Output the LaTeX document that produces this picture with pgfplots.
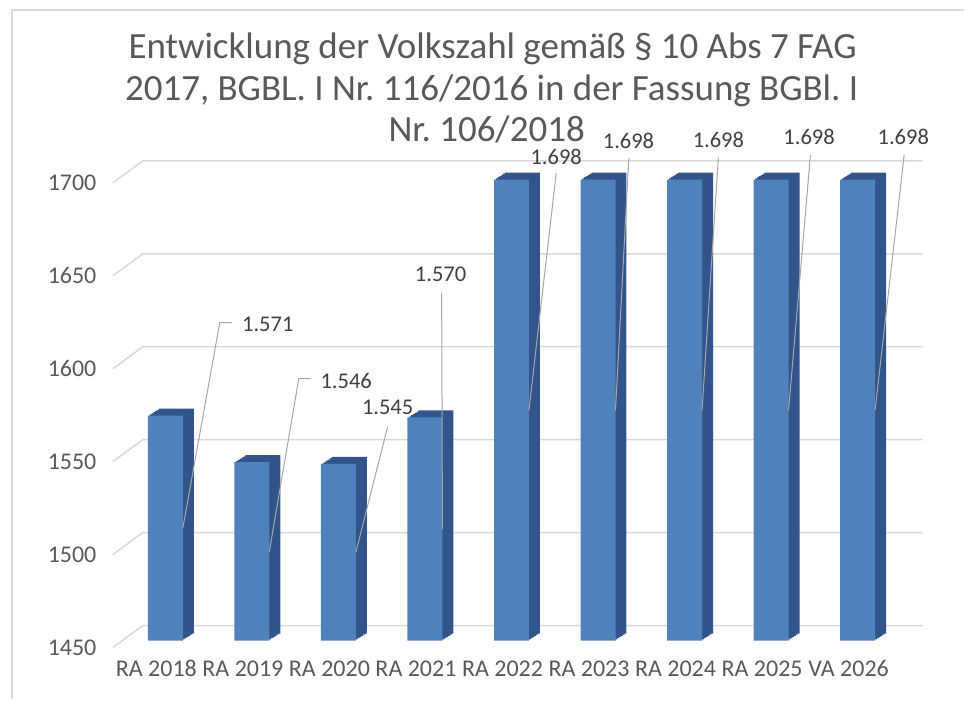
\documentclass[border=0pt]{standalone}
\usepackage{pgfplots}
\usepackage{pgfplotstable}
\pgfplotsset{compat=1.18}
\usepackage{fontspec}
\setmainfont{Carlito}
\frenchspacing
\definecolor{barfront}{HTML}{4F81BD}
\definecolor{barside}{HTML}{31558A}
\definecolor{gridc}{HTML}{D9D9D9}
\definecolor{txtgray}{HTML}{595959}
\definecolor{lblgray}{HTML}{404040}
\definecolor{leadc}{HTML}{A6A6A6}
\pgfplotstableread{
i v
0 1571
1 1546
2 1545
3 1570
4 1698
5 1698
6 1698
7 1698
8 1698
}\data
\begin{document}
\begin{tikzpicture}
\path (0pt,0pt) rectangle (965pt,700pt);
\draw[gridc, line width=1.5pt] (12pt,0pt) -- (12pt,690.75pt);
\draw[gridc, line width=1.5pt] (11.25pt,690pt) -- (965pt,690pt);
\node[anchor=base, text=txtgray, font=\fontsize{37}{41}\selectfont] at (493pt,641pt) {Entwicklung der Volkszahl gemäß § 10 Abs 7 FAG};
\node[anchor=base, text=txtgray, font=\fontsize{37}{41}\selectfont] at (492pt,599pt) {2017, BGBL. I Nr. 116/2016 in der Fassung BGBl. I};
\node[anchor=base, text=txtgray, font=\fontsize{37}{41}\selectfont] at (487pt,558pt) {Nr. 106/2018};
\begin{axis}[
  at={(113pt,59pt)}, anchor=south west,
  x=86.6pt, y=1.86pt,
  xmin=-0.606, xmax=8.75, ymin=0, ymax=250,
  clip=false,
  axis line style={draw=none},
  tick style={draw=none},
  major tick length=0pt,
  /pgf/number format/assume math mode=true,
  xtick={0,1,2,3,4,5,6,7,8},
  xticklabels={RA 2018,RA 2019,RA 2020,RA 2021,RA 2022,RA 2023,RA 2024,RA 2025,VA 2026},
  ytick={0,50,100,150,200,250},
  yticklabels={1450,1500,1550,1600,1650,1700},
  ticklabel style={font=\fontsize{24}{28}\selectfont, text=txtgray},
  xticklabel style={anchor=base, yshift=-36pt, xshift=-9pt},
  yticklabel style={anchor=east, xshift=-13pt, yshift=-7pt},
]
\pgfplotsinvokeforeach{0,50,100,150,200,250}{
  \draw[gridc, line width=1.5pt] ([yshift=-7pt]axis cs:-0.606,#1) -- ([yshift=15pt]axis cs:-0.26,#1) -- ([yshift=15pt]axis cs:8.75,#1);
}
% 3D depth layers (side and top faces)
\addplot[ybar, bar width=35pt, bar shift=11pt, fill=barside, draw=none, yshift=7pt] table[x=i, y expr=\thisrow{v}-1450]{\data};
\addplot[ybar, bar width=35pt, bar shift=9.17pt, fill=barside, draw=none, yshift=5.83pt] table[x=i, y expr=\thisrow{v}-1450]{\data};
\addplot[ybar, bar width=35pt, bar shift=7.33pt, fill=barside, draw=none, yshift=4.67pt] table[x=i, y expr=\thisrow{v}-1450]{\data};
\addplot[ybar, bar width=35pt, bar shift=5.5pt, fill=barside, draw=none, yshift=3.5pt] table[x=i, y expr=\thisrow{v}-1450]{\data};
\addplot[ybar, bar width=35pt, bar shift=3.67pt, fill=barside, draw=none, yshift=2.33pt] table[x=i, y expr=\thisrow{v}-1450]{\data};
\addplot[ybar, bar width=35pt, bar shift=1.83pt, fill=barside, draw=none, yshift=1.17pt] table[x=i, y expr=\thisrow{v}-1450]{\data};
% front faces
\addplot[ybar, bar width=35pt, bar shift=0pt, fill=barfront, draw=none] table[x=i, y expr=\thisrow{v}-1450]{\data};
% leader lines
\draw[leadc, line width=1pt] (axis cs:0.768,171) -- (axis cs:0.629,171) -- (axis cs:0.2021,60.5);
\draw[leadc, line width=1pt] (axis cs:1.680,140.9) -- (axis cs:1.542,140.9) -- (axis cs:1.2021,48);
\draw[leadc, line width=1pt] (axis cs:2.569,115.1) -- (axis cs:2.2021,47.5);
\draw[leadc, line width=1pt] (axis cs:3.193,187.1) -- (axis cs:3.2021,60);
\draw[leadc, line width=1pt] (axis cs:4.517,251.6) -- (axis cs:4.2021,124);
\draw[leadc, line width=1pt] (axis cs:5.356,259.7) -- (axis cs:5.2021,124);
\draw[leadc, line width=1pt] (axis cs:6.391,260) -- (axis cs:6.2021,124);
\draw[leadc, line width=1pt] (axis cs:7.455,261.3) -- (axis cs:7.2021,124);
\draw[leadc, line width=1pt] (axis cs:8.538,261.3) -- (axis cs:8.2021,124);
% data labels
\begin{scope}[every node/.style={text=lblgray, font=\fontsize{22.5}{26}\selectfont, inner sep=0pt}]
\node at (axis cs:1.184,169.9) {1.571};
\node at (axis cs:2.090,139.8) {1.546};
\node at (axis cs:2.569,125.3) {1.545};
\node at (axis cs:3.181,197.3) {1.570};
\node at (axis cs:4.517,260.2) {1.698};
\node at (axis cs:5.352,268.8) {1.698};
\node at (axis cs:6.391,269.4) {1.698};
\node at (axis cs:7.439,270.7) {1.698};
\node at (axis cs:8.528,271) {1.698};
\end{scope}
\end{axis}
\end{tikzpicture}
\end{document}
